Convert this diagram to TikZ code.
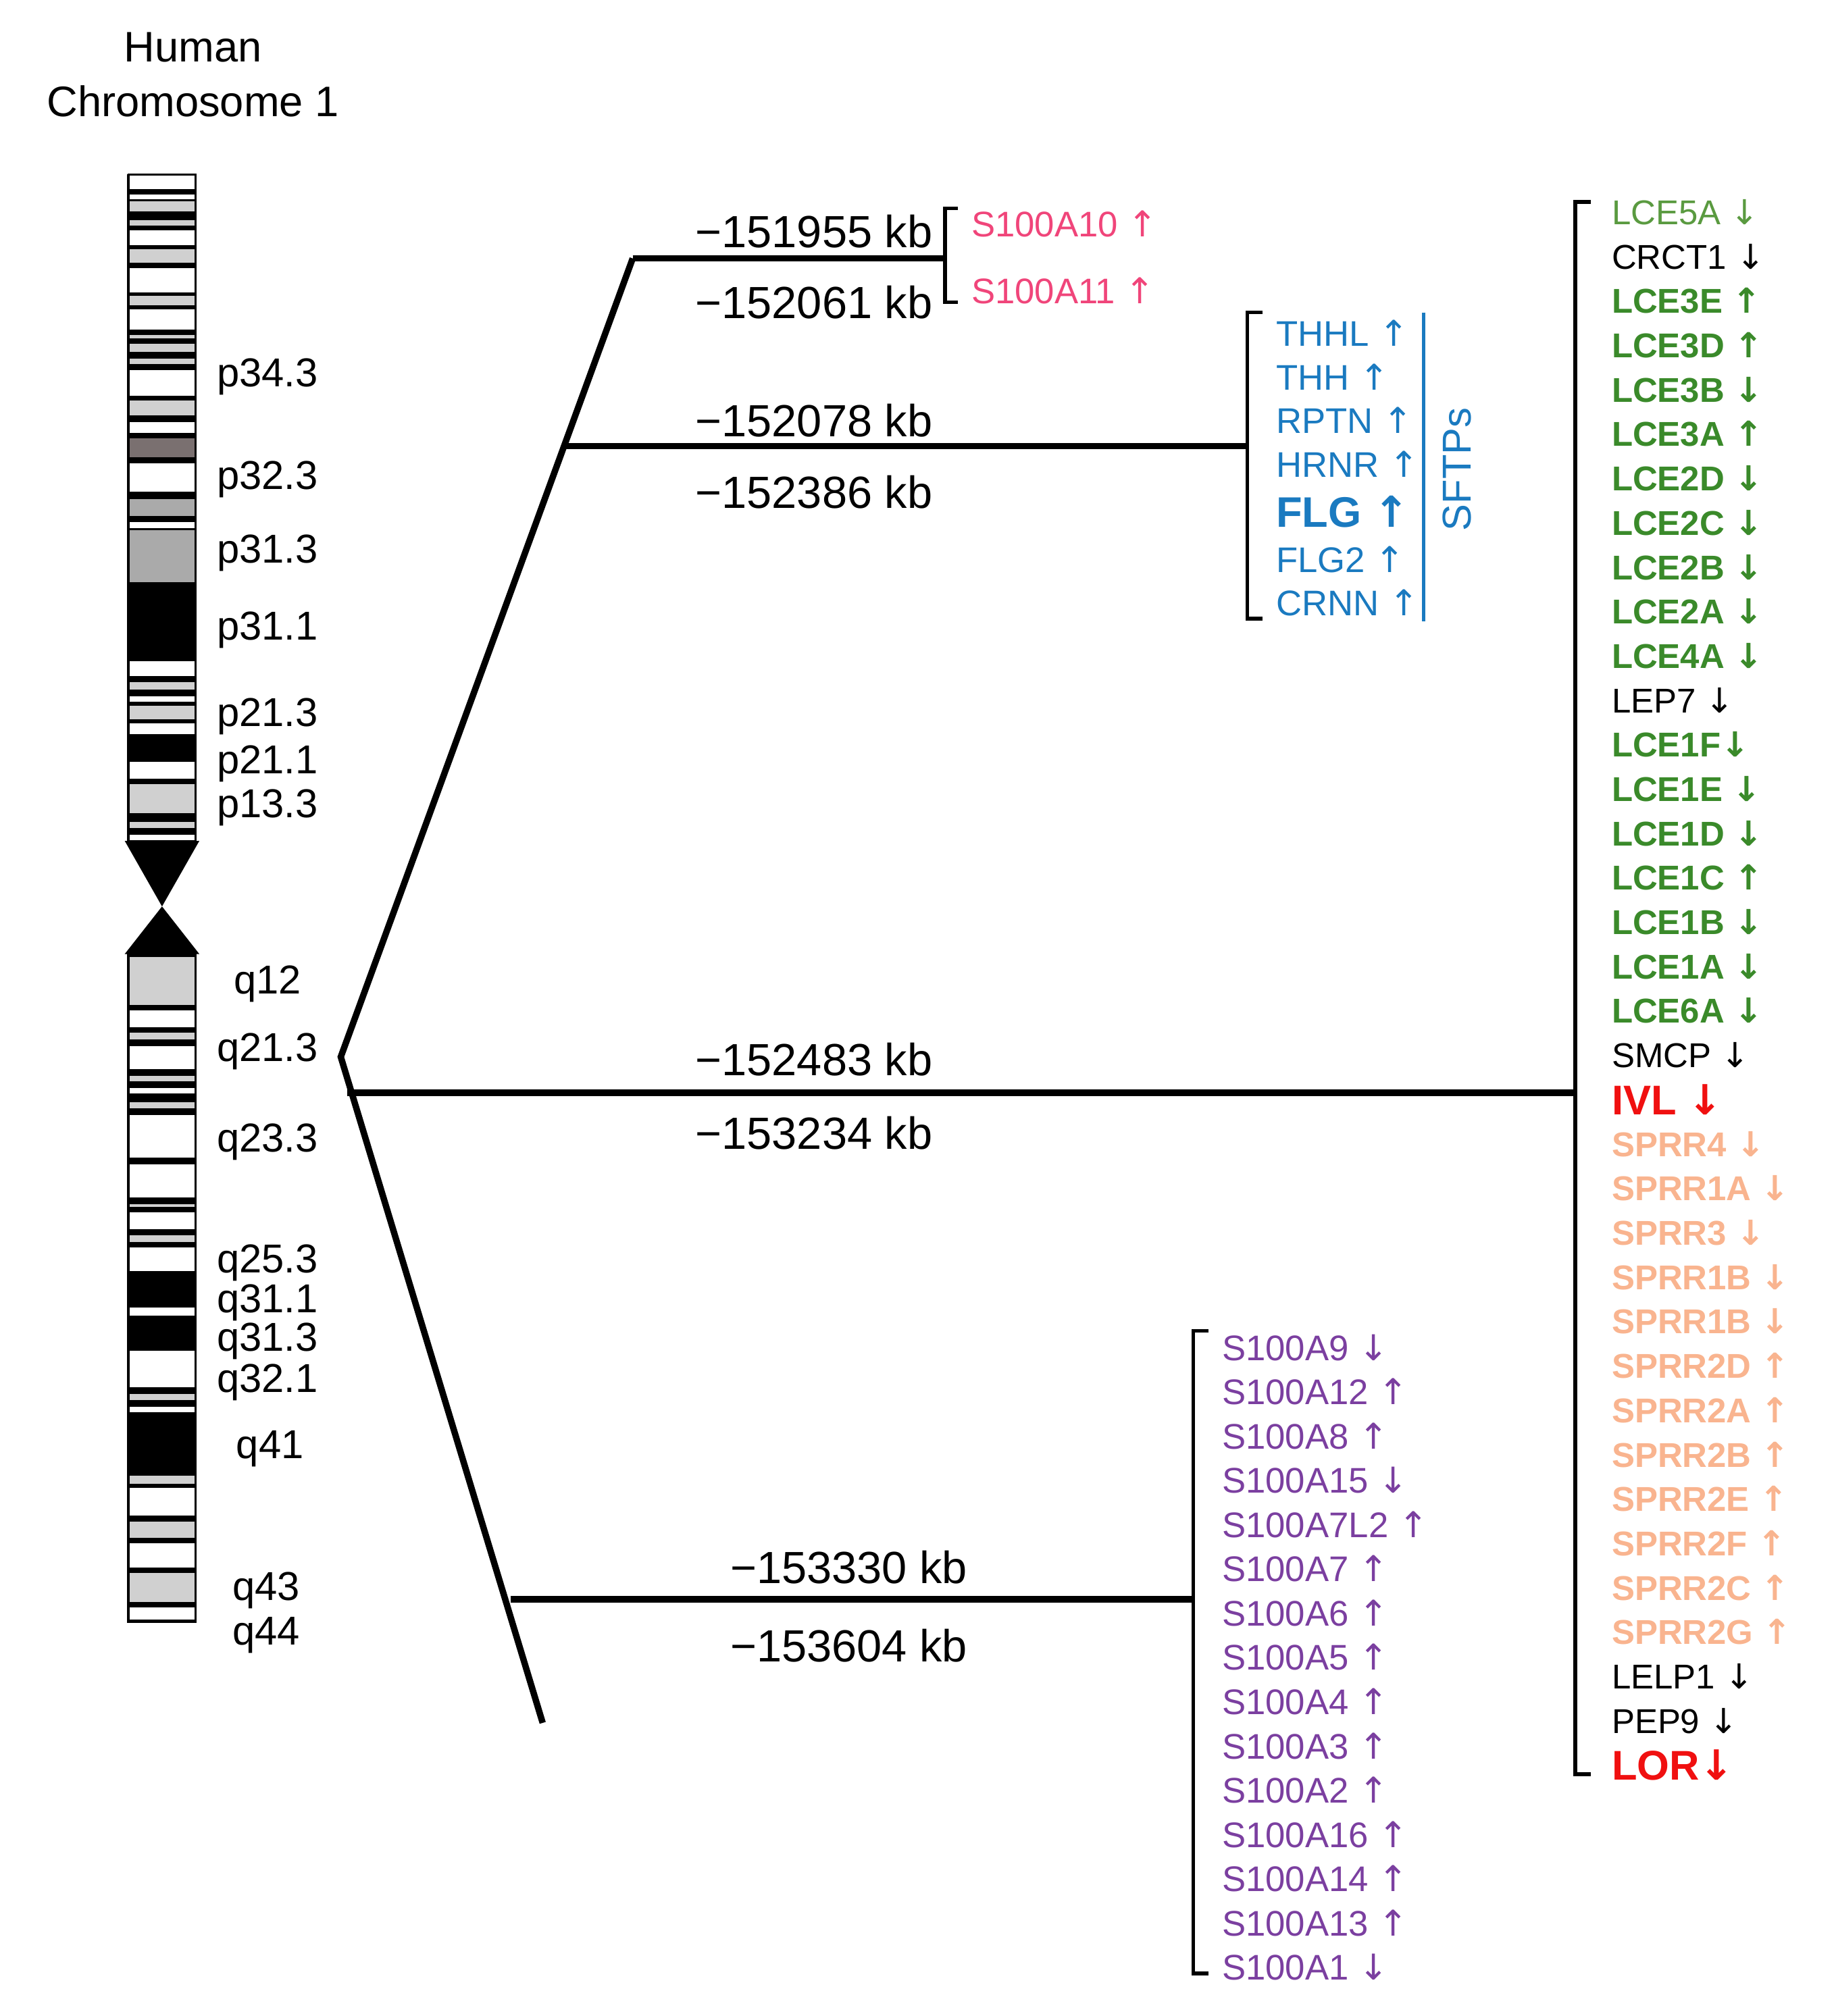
\documentclass[tikz,border=0pt]{standalone}
\usepackage{fontspec}
\setmainfont{Liberation Sans}
\newfontfamily\arrfont{DejaVu Sans}
\newcommand\gup{{\arrfont ↑}}
\newcommand\gdn{{\arrfont ↓}}
\definecolor{pinkc}{HTML}{F0457A}
\definecolor{bluec}{HTML}{1A7AC0}
\definecolor{purc}{HTML}{7B3FA0}
\definecolor{grnc}{HTML}{3A8A2A}
\definecolor{lgrnc}{HTML}{5A9A40}
\definecolor{peachc}{HTML}{F9B48F}
\definecolor{redc}{HTML}{F01010}
\definecolor{bL}{HTML}{D0D0D0}
\definecolor{bG}{HTML}{AAAAAA}
\definecolor{bD}{HTML}{7A7070}
\newcommand\chband[3]{\fill[#3,draw=black,line width=0.8pt] (100,#1) rectangle (152,#2);}
\begin{document}
\begin{tikzpicture}[x=0.01904cm,y=-0.01904cm,
  band/.style={font=\fontsize{17}{20}\selectfont,anchor=center,inner sep=0},
  kb/.style={font=\fontsize{19}{22}\selectfont,anchor=center,inner sep=0},
  gene/.style={font=\fontsize{15}{18}\selectfont,anchor=west,inner sep=0},
  thick line/.style={line width=2.7pt},
  brk/.style={line width=1.6pt}]
\useasboundingbox (0,0) rectangle (1426,1568);
% title
\node[font=\fontsize{18}{22}\selectfont,align=center] (title) at (150,58) {Human\\[1pt]Chromosome 1};
% p arm
\begin{scope}[shift={(0,130.3)},yscale=0.365]
\fill[black] (99,15) rectangle (153,1435);
\chband{15}{48}{white}\chband{55}{70}{white}\chband{70}{95}{bL}
\chband{110}{125}{bL}\chband{132}{168}{white}\chband{172}{205}{bL}
\chband{212}{268}{white}\chband{272}{295}{bL}\chband{300}{348}{white}
\chband{355}{366}{bL}\chband{373}{395}{bL}\chband{405}{420}{bL}
\chband{430}{488}{white}\chband{495}{530}{bL}\chband{540}{568}{white}
\chband{575}{620}{bD}\chband{628}{692}{white}\chband{705}{745}{bG}
\chband{753}{770}{white}\chband{770}{885}{bG}\chband{1050}{1085}{white}
\chband{1095}{1115}{bL}\chband{1125}{1140}{white}\chband{1145}{1178}{bL}
\chband{1183}{1210}{white}\chband{1265}{1305}{white}\chband{1312}{1378}{bL}
\chband{1392}{1410}{bL}\chband{1420}{1435}{white}
\end{scope}
% centromere
\fill[black] (97,654) -- (155,654) -- (126,705) -- cycle;
\fill[black] (126,705) -- (155,742) -- (97,742) -- cycle;
% q arm
\begin{scope}[shift={(0,703.5)},yscale=0.384]
\fill[black] (99,100) rectangle (153,1455);
\chband{105}{205}{bL}\chband{212}{250}{white}\chband{258}{275}{bL}
\chband{285}{335}{white}\chband{345}{360}{bL}\chband{370}{385}{white}
\chband{398}{415}{bL}\chband{425}{515}{white}\chband{525}{595}{white}
\chband{605}{615}{bL}\chband{622}{660}{white}\chband{668}{685}{bL}
\chband{692}{745}{white}\chband{815}{835}{white}\chband{902}{980}{white}
\chband{990}{1005}{bL}\chband{1015}{1030}{white}\chband{1155}{1175}{bL}
\chband{1180}{1240}{white}\chband{1248}{1285}{bL}\chband{1292}{1345}{white}
\chband{1352}{1415}{bL}\chband{1422}{1450}{white}
\end{scope}
% band labels
\node[band] (b1) at (208,293) {p34.3};
\node[band] (b2) at (208,373) {p32.3};
\node[band] (b3) at (208,430) {p31.3};
\node[band] (b4) at (208,490) {p31.1};
\node[band] (b5) at (208,557) {p21.3};
\node[band] (b6) at (208,594) {p21.1};
\node[band] (b7) at (208,628) {p13.3};
\node[band] (b8) at (208,765) {q12};
\node[band] (b9) at (208,818) {q21.3};
\node[band] (b10) at (208,888) {q23.3};
\node[band] (b11) at (208,982) {q25.3};
\node[band] (b12) at (208,1013) {q31.1};
\node[band] (b13) at (208,1043) {q31.3};
\node[band] (b14) at (208,1075) {q32.1};
\node[band] (b15) at (210,1127) {q41};
\node[band] (b16) at (207,1237) {q43};
\node[band] (b17) at (207,1272) {q44};
% branching lines
\coordinate (apex) at (265,822);
\coordinate (top) at (492,201);
\coordinate (bot) at (422,1340);
\coordinate (j2) at (440,347);
\coordinate (j3) at (270,850);
\coordinate (j4) at (397,1244);
\coordinate (e1) at (735,201);
\coordinate (e2) at (970,347);
\coordinate (e3) at (1225,850);
\coordinate (e4) at (928,1244);
\draw[thick line,line join=miter] (top) -- (apex) -- (bot);
\draw[thick line] (top) -- (e1);
\draw[thick line] (j2) -- (e2);
\draw[thick line] (j3) -- (e3);
\draw[thick line] (j4) -- (e4);
% kb labels
\node[kb] (k1) at (633,180) {−151955 kb};
\node[kb] (k2) at (633,235) {−152061 kb};
\node[kb] (k3) at (633,327) {−152078 kb};
\node[kb] (k4) at (633,383) {−152386 kb};
\node[kb] (k5) at (633,824) {−152483 kb};
\node[kb] (k6) at (633,881) {−153234 kb};
\node[kb] (k7) at (660,1219) {−153330 kb};
\node[kb] (k8) at (660,1280) {−153604 kb};
% brackets
\draw[brk] (745,162) -- (735,162) -- (735,235) -- (745,235);
\draw[brk] (982,243) -- (970,243) -- (970,481) -- (982,481);
\draw[brk] (940,1035) -- (928,1035) -- (928,1535) -- (940,1535);
\draw[brk] (1237,157) -- (1225,157) -- (1225,1380) -- (1237,1380);
% S100A10/11
\node[gene,text=pinkc] (s10) at (755,174) {S100A10 \gup};
\node[gene,text=pinkc] (s11) at (755,226) {S100A11 \gup};
% SFTPs
\begin{scope}[every node/.style={gene,text=bluec}]
\node (t1) at (992,259) {THHL \gup};
\node (t2) at (992,293) {THH \gup};
\node (t3) at (992,327) {RPTN \gup};
\node (t4) at (992,361) {HRNR \gup};
\node[font=\fontsize{18}{22}\selectfont\bfseries] (t5) at (992,398) {FLG \gup};
\node (t6) at (992,435) {FLG2 \gup};
\node (t7) at (992,469) {CRNN \gup};
\end{scope}
\draw[bluec,line width=1.4pt] (1107,243) -- (1107,483);
\node[gene,anchor=center,text=bluec,rotate=90,font=\fontsize{17}{20}\selectfont] (sftp) at (1133,365) {SFTPs};
% purple list
\foreach \g [count=\i from 0] in {S100A9 \gdn,S100A12 \gup,S100A8 \gup,S100A15 \gdn,S100A7L2 \gup,S100A7 \gup,S100A6 \gup,S100A5 \gup,S100A4 \gup,S100A3 \gup,S100A2 \gup,S100A16 \gup,S100A14 \gup,S100A13 \gup,S100A1 \gdn}
  \node[gene,text=purc] (pu\i) at (950,1048+34.43*\i) {\g};
% right list
\foreach \g/\c/\f [count=\i from 0] in {
 LCE5A \gdn/lgrnc/n, CRCT1 \gdn/black/n, LCE3E \gup/grnc/b, LCE3D \gup/grnc/b,
 LCE3B \gdn/grnc/b, LCE3A \gup/grnc/b, LCE2D \gdn/grnc/b, LCE2C \gdn/grnc/b,
 LCE2B \gdn/grnc/b, LCE2A \gdn/grnc/b, LCE4A \gdn/grnc/b, LEP7 \gdn/black/n,
 LCE1F\gdn/grnc/b, LCE1E \gdn/grnc/b, LCE1D \gdn/grnc/b, LCE1C \gup/grnc/b,
 LCE1B \gdn/grnc/b, LCE1A \gdn/grnc/b, LCE6A \gdn/grnc/b, SMCP \gdn/black/n,
 IVL \gdn/redc/r, SPRR4 \gdn/peachc/b, SPRR1A \gdn/peachc/b, SPRR3 \gdn/peachc/b,
 SPRR1B \gdn/peachc/b, SPRR1B \gdn/peachc/b, SPRR2D \gup/peachc/b, SPRR2A \gup/peachc/b,
 SPRR2B \gup/peachc/b, SPRR2E \gup/peachc/b, SPRR2F \gup/peachc/b, SPRR2C \gup/peachc/b,
 SPRR2G \gup/peachc/b, LELP1 \gdn/black/n, PEP9 \gdn/black/n, LOR\gdn/redc/r}
 {
 \if\f b\def\ff{\bfseries}\else\if\f r\def\ff{\fontsize{17.5}{21}\selectfont\bfseries}\else\def\ff{}\fi\fi
 \node[gene,text=\c,font=\fontsize{14.5}{18}\selectfont\ff] (r\i) at (1253,165+34.51*\i) {\g};
 }
\end{tikzpicture}
\end{document}
